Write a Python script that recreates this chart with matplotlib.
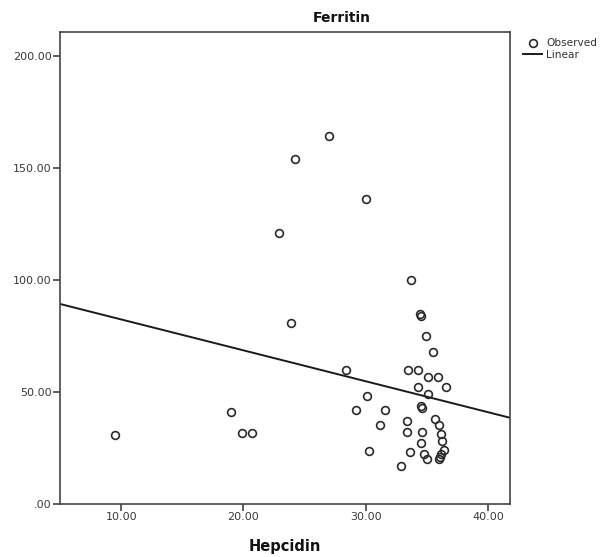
import matplotlib
matplotlib.use("Agg")
import matplotlib.pyplot as plt
from matplotlib.ticker import FuncFormatter
from matplotlib.lines import Line2D
import numpy as np

# Observed data (Hepcidin, Ferritin)
hepcidin = [27.0, 24.2, 30.0, 22.94, 23.85,
            9.51, 18.99, 19.92, 20.68,
            33.68, 34.45, 34.55, 34.96, 35.48, 28.39, 33.49, 34.30, 35.12, 35.94,
            34.30, 36.57, 35.12, 30.11, 29.19, 31.61, 34.52, 34.62,
            31.2, 33.38, 33.38, 34.61, 34.50, 35.70, 35.97, 36.19, 36.25, 36.41,
            36.14, 36.0, 36.1, 30.3, 33.65, 34.79, 35.0, 32.89]
ferritin = [164.2, 154.0, 136.0, 121.0, 80.9,
            30.8, 40.9, 31.8, 31.8,
            100.1, 84.9, 83.9, 74.9, 67.9, 60.0, 60.0, 60.0, 56.8, 56.8,
            52.1, 52.1, 49.1, 48.1, 41.8, 41.8, 43.9, 42.7,
            35.1, 36.9, 32.0, 32.0, 27.1, 38.1, 35.1, 31.1, 28.0, 24.1,
            22.3, 20.0, 21.2, 23.8, 23.1, 22.3, 20.0, 17.0]

# Linear fit line endpoints
fit_x = [5.0, 41.8]
fit_y = [89.3, 38.5]

xticks = [10, 20, 30, 40]
yticks = [0, 50, 100, 150, 200]

W, H = 602, 557
fig = plt.figure(figsize=(W / 100, H / 100), dpi=100)
ax = fig.add_axes([60 / W, 1 - 504 / H, 450 / W, 472 / H])

ax.plot(fit_x, fit_y, color="#1a1a1a", lw=1.4, zorder=2)
ax.plot(hepcidin, ferritin, linestyle="none", marker="o", markersize=5.6,
        markerfacecolor="none", markeredgecolor="#2a2a2a", markeredgewidth=1.2, zorder=3)

ax.set_xlim(5, 41.8)
ax.set_ylim(0, 210.7)
ax.set_xticks(xticks)
ax.set_yticks(yticks)

def fmt(v, pos):
    s = f"{v:.2f}"
    if s.startswith("0"):
        s = s[1:]
    return s

ax.xaxis.set_major_formatter(FuncFormatter(fmt))
ax.yaxis.set_major_formatter(FuncFormatter(fmt))
ax.tick_params(direction="out", length=5, width=1.1, color="#333333",
               labelsize=8, labelcolor="#3a3a3a", pad=1)
for s in ax.spines.values():
    s.set_linewidth(1.2)
    s.set_color("#444444")

fig.text(342 / W, 1 - 18 / H, "Ferritin", ha="center", va="center",
         fontsize=10, fontweight="bold", color="#111111")
fig.text(285 / W, 1 - 547 / H, "Hepcidin", ha="center", va="center",
         fontsize=10.5, fontweight="bold", color="#111111")

# Legend
handles = [Line2D([], [], linestyle="none", marker="o", markersize=5.6,
                  markerfacecolor="none", markeredgecolor="#2a2a2a", markeredgewidth=1.2),
           Line2D([], [], color="#1a1a1a", lw=1.4)]
leg = fig.legend(handles, ["Observed", "Linear"], loc="upper left",
                 bbox_to_anchor=(518 / W, 1 - 33 / H), frameon=False,
                 fontsize=7.6, handlelength=1.8, handletextpad=0.35,
                 borderpad=0, labelspacing=0.15)
for t in leg.get_texts():
    t.set_color("#333333")

fig.savefig("out.png", dpi=100)
